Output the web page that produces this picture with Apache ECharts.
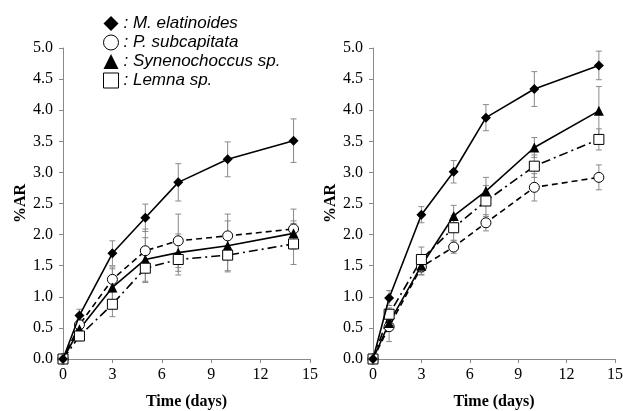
<!DOCTYPE html>
<html>
<head>
<meta charset="utf-8">
<script src="https://cdn.jsdelivr.net/npm/echarts@6/dist/echarts.min.js"></script>
<style>
  html, body { margin: 0; padding: 0; background: #fff; }
  #chart { width: 623px; height: 411px; }
</style>
</head>
<body>
<div id="chart"></div>
<script>
const days = [0, 1, 3, 5, 7, 10, 14];
const xTicks = [0, 3, 6, 9, 12, 15];
const names = ["M. elatinoides", "P. subcapitata", "Synenochoccus sp.", "Lemna sp."];

// left panel means and std
const leftMel = [0, 0.70, 1.70, 2.27, 2.84, 3.21, 3.51];
const leftPsub = [0, 0.55, 1.28, 1.74, 1.90, 1.98, 2.09];
const leftSyn = [0, 0.48, 1.15, 1.60, 1.71, 1.82, 2.02];
const leftLem = [0, 0.37, 0.88, 1.46, 1.60, 1.67, 1.85];
const leftMelErr = [0, 0.10, 0.20, 0.22, 0.30, 0.28, 0.35];
const leftPsubErr = [0, 0.08, 0.20, 0.35, 0.43, 0.35, 0.32];
const leftSynErr = [0, 0.07, 0.30, 0.35, 0.30, 0.40, 0.20];
const leftLemErr = [0, 0.08, 0.20, 0.23, 0.25, 0.27, 0.33];

// right panel means and std
const rightMel = [0, 0.98, 2.32, 3.01, 3.88, 4.34, 4.72];
const rightPsub = [0, 0.52, 1.48, 1.80, 2.19, 2.76, 2.92];
const rightSyn = [0, 0.58, 1.50, 2.30, 2.70, 3.40, 3.99];
const rightLem = [0, 0.72, 1.60, 2.11, 2.54, 3.10, 3.53];
const rightMelErr = [0, 0.12, 0.13, 0.18, 0.21, 0.28, 0.23];
const rightPsubErr = [0, 0.24, 0.12, 0.10, 0.13, 0.22, 0.20];
const rightSynErr = [0, 0.10, 0.15, 0.17, 0.22, 0.16, 0.39];
const rightLemErr = [0, 0.10, 0.20, 0.20, 0.25, 0.18, 0.17];

const chart = echarts.init(document.getElementById("chart"));

const styles = [
    { symbol: "diamond", size: 10, fill: "#000", type: "solid" },
    { symbol: "circle", size: 10, fill: "#fff", type: [6, 4] },
    { symbol: "triangle", size: 10, fill: "#000", type: "solid" },
    { symbol: "rect", size: 10, fill: "#fff", type: [9, 4, 2, 4] }
];

function errBars(idx, vals, errs) {
    return {
        type: "custom",
        xAxisIndex: idx,
        yAxisIndex: idx,
        silent: true,
        z: 1,
        data: days.map((d, i) => [d, vals[i] - errs[i], vals[i] + errs[i]]),
        renderItem: function (params, api) {
            const lo = api.coord([api.value(0), api.value(1)]);
            const hi = api.coord([api.value(0), api.value(2)]);
            const st = { stroke: "#8a8a8a", lineWidth: 1 };
            return {
                type: "group",
                children: [
                    { type: "line", shape: { x1: lo[0], y1: lo[1], x2: hi[0], y2: hi[1] }, style: st },
                    { type: "line", shape: { x1: lo[0] - 3, y1: lo[1], x2: lo[0] + 3, y2: lo[1] }, style: st },
                    { type: "line", shape: { x1: hi[0] - 3, y1: hi[1], x2: hi[0] + 3, y2: hi[1] }, style: st }
                ]
            };
        }
    };
}

function lineSeries(idx, k, vals) {
    const s = styles[k];
    return {
        name: names[k],
        type: "line",
        xAxisIndex: idx,
        yAxisIndex: idx,
        z: 3 + (k === 0 ? 1 : 0),
        data: days.map((d, i) => [d, vals[i]]),
        symbol: s.symbol,
        symbolSize: s.size,
        showAllSymbol: true,
        lineStyle: { color: "#000", width: 1.6, type: s.type },
        itemStyle: { color: s.fill, borderColor: "#000", borderWidth: s.fill === "#fff" ? 1 : 0 },
        emphasis: { disabled: true }
    };
}

const axisFont = { fontFamily: "Liberation Serif", fontSize: 16, color: "#000" };
const nameFont = { fontFamily: "Liberation Serif", fontSize: 16, fontWeight: "bold", color: "#000" };

function xAxis(idx) {
    return {
        type: "value", gridIndex: idx, min: 0, max: 15, interval: 3,
        name: "Time (days)", nameLocation: "middle", nameGap: 35, nameTextStyle: nameFont,
        axisLine: { lineStyle: { color: "#8a8a8a" } },
        axisTick: { show: true, length: 4, lineStyle: { color: "#8a8a8a" } },
        axisLabel: Object.assign({ margin: 8 }, axisFont),
        splitLine: { show: false }
    };
}

function yAxis(idx) {
    return {
        type: "value", gridIndex: idx, min: 0, max: 5, interval: 0.5,
        name: "%AR", nameLocation: "middle", nameGap: 34, nameTextStyle: nameFont,
        axisLine: { show: true, lineStyle: { color: "#8a8a8a" } },
        axisTick: { show: true, length: 4, lineStyle: { color: "#8a8a8a" } },
        axisLabel: Object.assign({ margin: 10, formatter: (v) => v.toFixed(1) }, axisFont),
        splitLine: { show: false }
    };
}

chart.setOption({
    animation: false,
    legend: {
        left: 98,
        top: 10,
        orient: "vertical",
        itemGap: 2,
        itemWidth: 15,
        itemHeight: 15,
        formatter: (n) => ": " + n,
        textStyle: { fontFamily: "Liberation Sans", fontStyle: "italic", fontSize: 17, color: "#000" },
        data: names.map((n, k) => ({
            name: n,
            icon: styles[k].symbol,
            itemStyle: { color: styles[k].fill, borderColor: "#000", borderWidth: styles[k].fill === "#fff" ? 1 : 0 }
        }))
    },
    grid: [
        { left: 63, right: 313, top: 48, bottom: 52, containLabel: false, outerBoundsMode: "none" },
        { left: 373, right: 8, top: 48, bottom: 52, containLabel: false, outerBoundsMode: "none" }
    ],
    xAxis: [xAxis(0), xAxis(1)],
    yAxis: [yAxis(0), yAxis(1)],
    series: [
        errBars(0, leftMel, leftMelErr),
        errBars(0, leftPsub, leftPsubErr),
        errBars(0, leftSyn, leftSynErr),
        errBars(0, leftLem, leftLemErr),
        errBars(1, rightMel, rightMelErr),
        errBars(1, rightPsub, rightPsubErr),
        errBars(1, rightSyn, rightSynErr),
        errBars(1, rightLem, rightLemErr),
        lineSeries(0, 0, leftMel),
        lineSeries(0, 1, leftPsub),
        lineSeries(0, 2, leftSyn),
        lineSeries(0, 3, leftLem),
        lineSeries(1, 0, rightMel),
        lineSeries(1, 1, rightPsub),
        lineSeries(1, 2, rightSyn),
        lineSeries(1, 3, rightLem)
    ]
});

window.addEventListener("resize", () => chart.resize());
</script>
</body>
</html>
